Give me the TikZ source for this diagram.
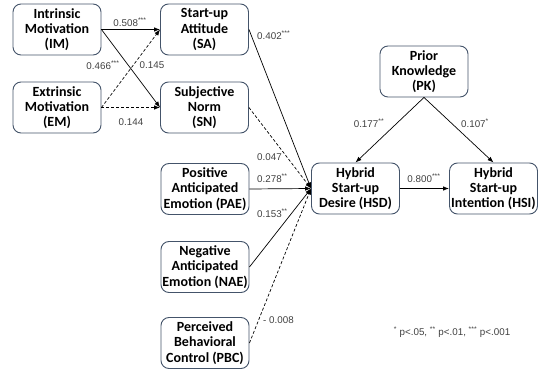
\documentclass[tikz,border=0pt]{standalone}
\usepackage{fontspec}
\setmainfont{Liberation Sans}
\newfontfamily\calibri{Carlito}
\usetikzlibrary{arrows.meta}
\definecolor{boxline}{HTML}{44546A}
\definecolor{numgray}{HTML}{404040}
\tikzset{
  construct/.style={draw=boxline, line width=0.9pt, rounded corners=8pt, fill=white,
    minimum width=88pt, minimum height=51pt, align=center, inner sep=1pt,
    font=\calibri\bfseries\fontsize{14}{15.2}\selectfont},
  coef/.style={font=\fontsize{9.8}{11}\selectfont, text=numgray, inner sep=1pt},
  path/.style={-{Latex[length=6pt,width=4.5pt]}, line width=0.7pt},
  nspath/.style={path, dash pattern=on 3pt off 2pt}
}
\begin{document}
\begin{tikzpicture}[x=1pt, y=-1pt]
\useasboundingbox (0,0) rectangle (540,371);

% Constructs
\node[construct] (IM) at (57,29.5) {Intrinsic\\Motivation\\(IM)};
\node[construct] (EM) at (57,107.5) {Extrinsic\\Motivation\\(EM)};
\node[construct] (SA) at (204.5,29.5) {Start-up\\Attitude\\(SA)};
\node[construct] (SN) at (204.5,107.5) {Subjective\\Norm\\(SN)};
\node[construct] (PAE) at (205,189) {Positive\\Anticipated\\Emotion (PAE)};
\node[construct] (NAE) at (205,267) {Negative\\Anticipated\\Emotion (NAE)};
\node[construct] (PBC) at (205,343) {Perceived\\Behavioral\\Control (PBC)};
\node[construct] (HSD) at (355.5,188.5) {Hybrid\\Start-up\\Desire (HSD)};
\node[construct] (HSI) at (493.5,188.5) {Hybrid\\Start-up\\Intention (HSI)};
\node[construct] (PK) at (424,71.5) {Prior\\Knowledge\\(PK)};

% Motivation paths
\draw[path] (IM.east) -- (SA.west);
\draw[path] (IM.east) -- (SN.west);
\draw[nspath] (EM.east) -- (SA.west);
\draw[nspath] (EM.east) -- (SN.west);

% Paths into desire
\draw[path] (SA.east) -- (HSD.west);
\draw[nspath] (SN.east) -- (HSD.west);
\draw[path] (PAE.east) -- (HSD.west);
\draw[path] (NAE.east) -- (HSD.west);
\draw[nspath] (PBC.east) -- (HSD.west);

% Desire, intention and prior knowledge
\draw[path] (HSD.east) -- (HSI.west);
\draw[path] (PK.south) -- (HSD.north);
\draw[path] (PK.south) -- (HSI.north);

% Coefficients
\node[coef] (c-im-sa) at (130,22) {0.508\textsuperscript{***}};
\node[coef] (c-em-sa) at (103,65) {0.466\textsuperscript{***}};
\node[coef] (c-im-sn) at (152,65) {0.145};
\node[coef] (c-em-sn) at (131,122) {0.144};
\node[coef, anchor=west] (c-sa) at (256,35) {0.402\textsuperscript{***}};
\node[coef, anchor=west] (c-sn) at (256,157) {0.047};
\node[coef, anchor=west] (c-pae) at (256,178) {0.278\textsuperscript{**}};
\node[coef, anchor=west] (c-nae) at (256,213) {0.153\textsuperscript{**}};
\node[coef, anchor=west] (c-pbc) at (262,320) {- 0.008};
\node[coef] (c-pk-hsd) at (369,123) {0.177\textsuperscript{**}};
\node[coef] (c-pk-hsi) at (475,123) {0.107\textsuperscript{*}};
\node[coef] (c-hsd-hsi) at (424,178) {0.800\textsuperscript{***}};

% Note
\node[coef] (note) at (452,332) {\textsuperscript{*} p<.05, \textsuperscript{**} p<.01, \textsuperscript{***} p<.001};
\end{tikzpicture}
\end{document}
